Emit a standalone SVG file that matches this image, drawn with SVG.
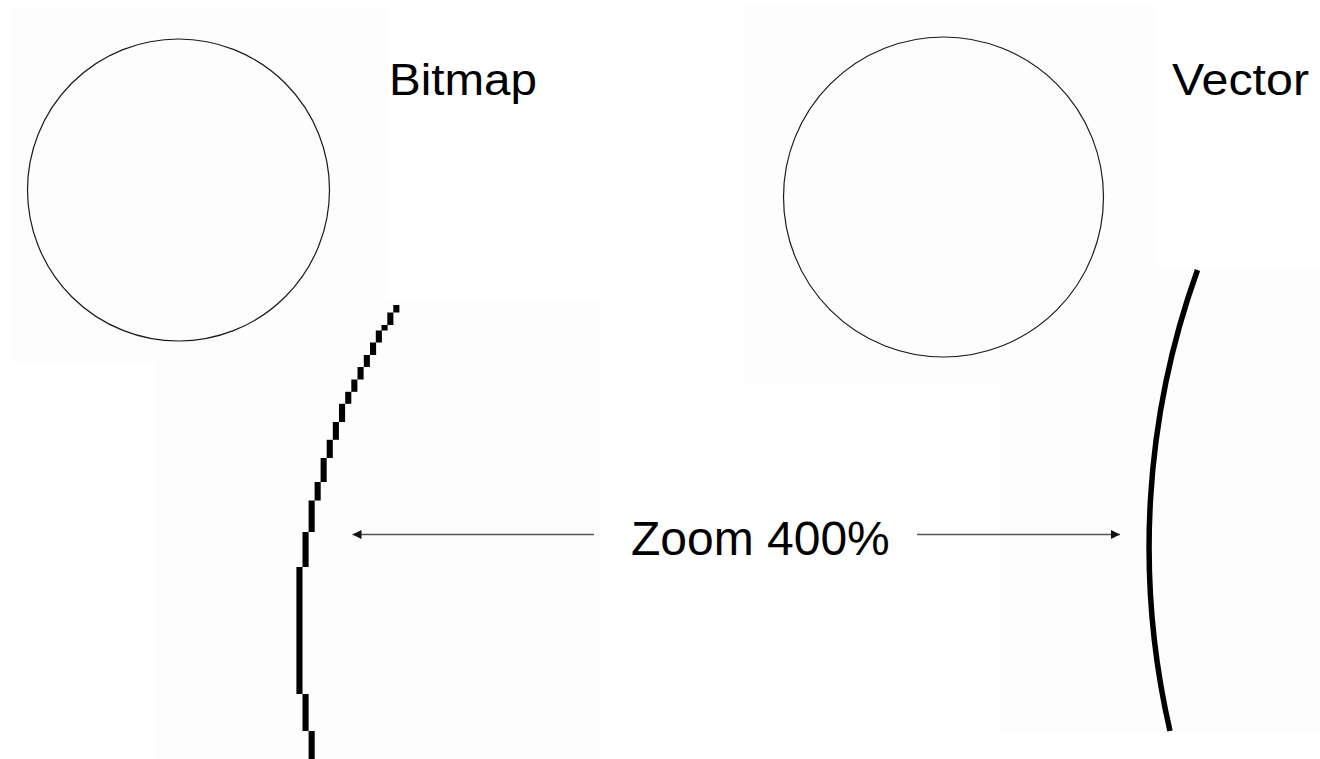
<svg xmlns="http://www.w3.org/2000/svg" width="1320" height="759" viewBox="0 0 1320 759">
  <defs>
    <style>
      .panel { fill: #fdfdfd; stroke: none; }
      .circle { fill: none; stroke: #1a1a1a; stroke-width: 1.2; }
      .label { font-family: "Liberation Sans", Arial, sans-serif; fill: #000; }
      .px { fill: #000; }
      .conn { stroke: #555; stroke-width: 1.7; fill: none; }
    </style>
    <marker id="arrow" viewBox="0 0 10 10" refX="10" refY="5" markerUnits="userSpaceOnUse" markerWidth="11" markerHeight="9" orient="auto-start-reverse">
      <path d="M0,0 L10,5 L0,10 z" fill="#111"/>
    </marker>
  </defs>

  <rect x="0" y="0" width="1320" height="759" fill="#ffffff"/>

  <g id="panels">
    <rect class="panel" x="10" y="8" width="376" height="354"/>
    <rect class="panel" x="155" y="300" width="445" height="459"/>
    <rect class="panel" x="745" y="5" width="410" height="380"/>
    <rect class="panel" x="1000" y="268" width="320" height="465"/>
  </g>

  <g id="bitmap-circle">
    <circle class="circle" cx="178.5" cy="190" r="151"/>
  </g>

  <g id="vector-circle">
    <circle class="circle" cx="943.5" cy="197" r="160"/>
  </g>

  <g id="bitmap-label">
    <text class="label" x="389" y="94.5" font-size="44" textLength="148" lengthAdjust="spacingAndGlyphs">Bitmap</text>
  </g>

  <g id="vector-label">
    <text class="label" x="1172" y="95" font-size="44" textLength="137" lengthAdjust="spacingAndGlyphs">Vector</text>
  </g>

  <g id="bitmap-zoom">
    <rect class="px" x="393.3" y="305" width="6.1" height="7.5"/>
    <rect class="px" x="387.3" y="312.5" width="6.1" height="12.5"/>
    <rect class="px" x="381.5" y="325" width="6.1" height="5.5"/>
    <rect class="px" x="375.8" y="330.5" width="6.1" height="12"/>
    <rect class="px" x="370" y="342.5" width="6.1" height="12.5"/>
    <rect class="px" x="363.8" y="355" width="6.1" height="12"/>
    <rect class="px" x="357.5" y="367" width="6.1" height="12.5"/>
    <rect class="px" x="351.3" y="379.5" width="6.1" height="12.3"/>
    <rect class="px" x="345.2" y="391.8" width="6.1" height="12"/>
    <rect class="px" x="339" y="403.8" width="6.1" height="18.2"/>
    <rect class="px" x="332.8" y="422" width="6.1" height="17.8"/>
    <rect class="px" x="326.7" y="439.8" width="6.1" height="18.2"/>
    <rect class="px" x="320.6" y="458" width="6.1" height="24"/>
    <rect class="px" x="314.6" y="482" width="6.1" height="18.5"/>
    <rect class="px" x="308.6" y="500.5" width="6.1" height="31.5"/>
    <rect class="px" x="302.5" y="532" width="6.1" height="35"/>
    <rect class="px" x="296.4" y="567" width="6.1" height="127"/>
    <rect class="px" x="302.5" y="694" width="6.1" height="37"/>
    <rect class="px" x="308.6" y="731" width="6.1" height="28"/>
  </g>

  <g id="vector-zoom">
    <path d="M1197.5,270 A818,818 0 0 0 1170,731" fill="none" stroke="#000" stroke-width="5.5"/>
  </g>

  <g id="zoom-label">
    <text class="label" x="631" y="554.5" font-size="48">Zoom 400%</text>
  </g>

  <g id="connectors">
    <line class="conn" x1="352.5" y1="534.5" x2="594" y2="534.5" marker-start="url(#arrow)"/>
    <line class="conn" x1="917" y1="534.5" x2="1120" y2="534.5" marker-end="url(#arrow)"/>
  </g>
</svg>
